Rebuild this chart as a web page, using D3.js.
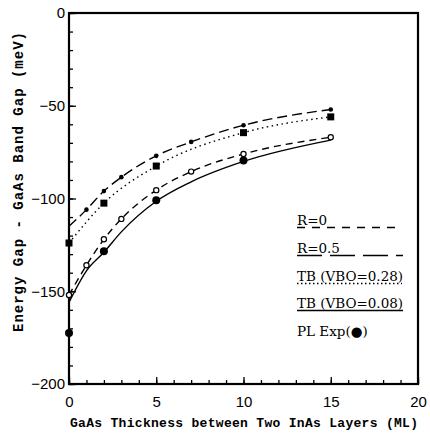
<!DOCTYPE html>
<html>
<head>
<meta charset="utf-8">
<script src="https://cdn.jsdelivr.net/npm/d3@7"></script>
<style>
  body { margin: 0; background: #fff; }
  svg { display: block; }
</style>
</head>
<body>
<div id="chart"></div>
<script>
// values (meV below GaAs band gap)
var r0X = [0, 1, 2, 3, 5, 7, 10, 15];
var r0Y = [-152, -136, -122, -111, -95.5, -85.5, -76, -67];

var r05X = [0, 1, 2, 3, 5, 7, 10, 15];
var r05Y = [-115, -106, -96, -88.5, -77, -69.5, -60.5, -52];

var tb28X = [0, 2, 5, 10, 15];
var tb28Y = [-124, -102.5, -82.5, -64.5, -56];

var tb08X = [0, 1, 2, 3, 5, 7, 10, 15];
var tb08Y = [-156, -139, -129, -118, -101.5, -91, -80, -68.5];

var plX = [0, 2, 5, 10];
var plY = [-172.5, -128.5, -101, -79.5];

var xTicks = [0, 5, 10, 15, 20];
var yTicks = [0, -50, -100, -150, -200];
var legendLabels = ["R=0", "R=0.5", "TB (VBO=0.28)", "TB (VBO=0.08)", "PL Exp(\u25CF)"];

function pairs(xs, ys) {
    return xs.map(function (x, i) { return { x: x, y: ys[i] }; });
}

var svg = d3.select("#chart")
    .append("svg")
    .attr("width", 430)
    .attr("height", 436);

var x = d3.scaleLinear().domain([0, 20]).range([69, 418]);
var y = d3.scaleLinear().domain([-200, 0]).range([384, 13]);

// minor ticks, pointing inward
svg.append("g")
    .attr("transform", "translate(0,384)")
    .call(d3.axisTop(x).ticks(20).tickSize(4).tickFormat(""))
    .call(g => g.select(".domain").remove());
svg.append("g")
    .attr("transform", "translate(69,0)")
    .call(d3.axisRight(y).ticks(20).tickSize(4).tickFormat(""))
    .call(g => g.select(".domain").remove());

// major ticks + labels
var xAxis = svg.append("g")
    .attr("transform", "translate(0,384)")
    .call(d3.axisBottom(x).tickValues(xTicks).tickSize(0).tickPadding(12));
xAxis.select(".domain").remove();
xAxis.selectAll("text")
    .attr("font-family", "Liberation Sans, Arial, sans-serif")
    .attr("font-size", 15)
    .attr("fill", "#000");
svg.append("g")
    .attr("transform", "translate(0,384)")
    .call(d3.axisTop(x).tickValues(xTicks).tickSize(7).tickFormat(""))
    .call(g => g.select(".domain").remove());

var yAxis = svg.append("g")
    .attr("transform", "translate(69,0)")
    .call(d3.axisLeft(y).tickValues(yTicks).tickSize(0).tickPadding(4));
yAxis.select(".domain").remove();
yAxis.selectAll("text")
    .attr("font-family", "Liberation Sans, Arial, sans-serif")
    .attr("font-size", 15)
    .attr("fill", "#000");
svg.append("g")
    .attr("transform", "translate(69,0)")
    .call(d3.axisRight(y).tickValues(yTicks).tickSize(7).tickFormat(""))
    .call(g => g.select(".domain").remove());

svg.selectAll(".tick line").attr("stroke", "#000").attr("stroke-width", 1.3);

// frame
svg.append("rect")
    .attr("x", x(0)).attr("y", y(0))
    .attr("width", x(20) - x(0)).attr("height", y(-200) - y(0))
    .attr("fill", "none").attr("stroke", "#000").attr("stroke-width", 2.2);

var line = d3.line()
    .x(d => x(d.x))
    .y(d => y(d.y))
    .curve(d3.curveMonotoneX);

var series = [
    { pts: pairs(r05X, r05Y), dash: "10,5" },
    { pts: pairs(tb28X, tb28Y), dash: "1.5,3.5" },
    { pts: pairs(r0X, r0Y), dash: "7,5" },
    { pts: pairs(tb08X, tb08Y), dash: null }
];

series.forEach(function (s) {
    svg.append("path")
        .datum(s.pts)
        .attr("d", line)
        .attr("fill", "none")
        .attr("stroke", "#000")
        .attr("stroke-width", 1.4)
        .attr("stroke-dasharray", s.dash);
});

// markers
svg.append("g").selectAll("circle")
    .data(pairs(r05X, r05Y).slice(1))
    .join("circle")
    .attr("cx", d => x(d.x)).attr("cy", d => y(d.y))
    .attr("r", 2.3).attr("fill", "#000");

svg.append("g").selectAll("rect")
    .data(pairs(tb28X, tb28Y))
    .join("rect")
    .attr("x", d => x(d.x) - 3.5).attr("y", d => y(d.y) - 3.5)
    .attr("width", 7).attr("height", 7).attr("fill", "#000");

svg.append("g").selectAll("circle")
    .data(pairs(r0X, r0Y))
    .join("circle")
    .attr("cx", d => x(d.x)).attr("cy", d => y(d.y))
    .attr("r", 2.6).attr("fill", "#fff")
    .attr("stroke", "#000").attr("stroke-width", 1.2);

svg.append("g").selectAll("circle")
    .data(pairs(plX, plY))
    .join("circle")
    .attr("cx", d => x(d.x)).attr("cy", d => y(d.y))
    .attr("r", 4).attr("fill", "#000");

// legend
var legendDash = ["8,7", "25,8", "1.5,2.5", null, null];
var legendY = [225, 253, 281, 308, 336];
var legendEnd = [397, 403, 402, 403];
legendLabels.forEach(function (lbl, i) {
    svg.append("text")
        .attr("x", 297).attr("y", legendY[i])
        .attr("font-family", "DejaVu Serif, serif")
        .attr("font-size", 13.5)
        .attr("fill", "#000")
        .text(lbl);
    if (i < 4) {
        svg.append("line")
            .attr("x1", 297).attr("x2", legendEnd[i])
            .attr("y1", legendY[i] + 2.5).attr("y2", legendY[i] + 2.5)
            .attr("stroke", "#000").attr("stroke-width", 1.3)
            .attr("stroke-dasharray", legendDash[i]);
    }
});

// axis titles
svg.append("text")
    .attr("x", 244).attr("y", 427)
    .attr("text-anchor", "middle")
    .attr("font-family", "Liberation Mono, 'Courier New', monospace")
    .attr("font-weight", "bold")
    .attr("font-size", 13)
    .attr("textLength", 348)
    .attr("fill", "#000")
    .text("GaAs Thickness between Two InAs Layers (ML)");

svg.append("text")
    .attr("transform", "translate(23,182) rotate(-90)")
    .attr("text-anchor", "middle")
    .attr("font-family", "Liberation Mono, 'Courier New', monospace")
    .attr("font-weight", "bold")
    .attr("font-size", 14)
    .attr("textLength", 300)
    .attr("fill", "#000")
    .text("Energy Gap - GaAs Band Gap (meV)");
</script>
</body>
</html>
